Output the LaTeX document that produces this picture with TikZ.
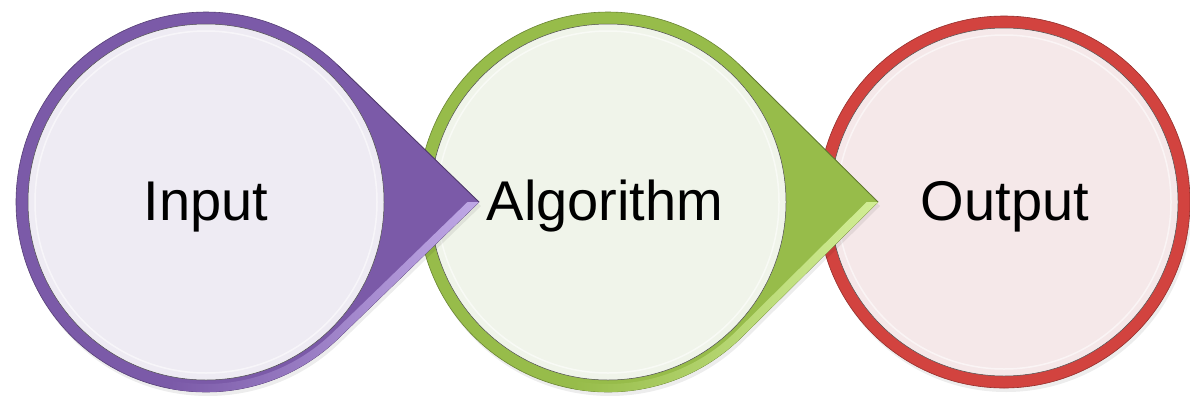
\documentclass[tikz,border=0pt]{standalone}
\usepackage{fontspec}
\setmainfont{Liberation Sans}
\usetikzlibrary{calc}

\definecolor{ringPurple}{HTML}{7B5AA8}
\definecolor{facetPurple}{HTML}{BFA8E6}
\definecolor{innerPurple}{HTML}{EEEBF3}
\definecolor{ringGreen}{HTML}{97BC4A}
\definecolor{facetGreen}{HTML}{D2EE96}
\definecolor{innerGreen}{HTML}{F0F4EA}
\definecolor{ringRed}{HTML}{D2433F}
\definecolor{innerRed}{HTML}{F5E8E9}

\tikzset{
  steplabel/.style={font=\fontsize{56}{60}\selectfont, text=black, anchor=base, inner sep=0pt},
  innerrim/.style={draw=black!70, line width=.5pt},
  highlight/.style={draw=white, opacity=.55, line width=1.5pt},
  shadowfill/.style={fill=black, opacity=.07}
}

% plain ring disc: centre x, centre y, outer radius, inner radius, ring colour, inner colour
\newcommand\ringdisc[6]{%
  \path[shadowfill] (#1+2,#2+4) circle[radius=#3];
  \path[fill=#5, draw=#5!70!black, line width=.6pt] (#1,#2) circle[radius=#3];
  \fill[#6] (#1,#2) circle[radius=#4];
  \path[highlight] (#1,#2) circle[radius=#4-7];
  \path[innerrim] (#1,#2) circle[radius=#4];
}

% ring disc with a pointed tip to the right:
% centre x, centre y, outer radius, inner radius, tip x, ring colour, facet colour, inner colour
\newcommand\dropdisc[8]{%
  \pgfmathsetmacro\tdang{acos(#3/(#5-#1))}
  \pgfmathsetmacro\tdphi{90-\tdang}
  \pgfmathsetmacro\tdtipin{#5-8/sin(\tdphi)}
  \pgfmathsetmacro\tdinr{#3-8}
  \pgfmathsetmacro\tdend{\tdang+55}
  % soft shadow
  \path[shadowfill] ($(#1+2,#2+4)+(\tdang:#3)$)
    arc[start angle=\tdang, end angle=360-\tdang, radius=#3] -- (#5+2,#2+4) -- cycle;
  % body
  \path[fill=#6, draw=#6!70!black, line width=.6pt] ($(#1,#2)+(\tdang:#3)$)
    arc[start angle=\tdang, end angle=360-\tdang, radius=#3] -- (#5,#2) -- cycle;
  % light lower bevel facet of the tip
  \shade[left color=#6, middle color=#7, right color=#7]
    (#5,#2) -- ($(#1,#2)+(\tdang:#3)$)
    arc[start angle=\tdang, end angle=\tdend, radius=#3]
    -- ($(#1,#2)+(\tdend:\tdinr)$)
    arc[start angle=\tdend, end angle=\tdang, radius=\tdinr]
    -- (\tdtipin,#2) -- cycle;
  % darker upper edge of the tip
  \draw[#6!60!black, line width=.8pt, opacity=.7] (#5,#2) -- ($(#1,#2)+(-\tdang:#3)$);
  % inner disc
  \fill[#8] (#1,#2) circle[radius=#4];
  \path[highlight] (#1,#2) circle[radius=#4-7];
  \path[innerrim] (#1,#2) circle[radius=#4];
}

\begin{document}
\begin{tikzpicture}[x=1pt, y=-1pt]
  \useasboundingbox (0,0) rectangle (1190,397);
  \fill[white] (0,0) rectangle (1190,397);

  % back to front: each tip lies over the next disc
  \ringdisc{1004}{202}{186}{174}{ringRed}{innerRed}
  \dropdisc{608}{202}{190}{178}{878}{ringGreen}{facetGreen}{innerGreen}
  \dropdisc{206}{202}{190}{178}{479}{ringPurple}{facetPurple}{innerPurple}

  \node[steplabel] (in)  at (206,220)  {Input};
  \node[steplabel] (alg) at (605,220)  {Algorithm};
  \node[steplabel] (out) at (1005,220) {Output};
\end{tikzpicture}
\end{document}
